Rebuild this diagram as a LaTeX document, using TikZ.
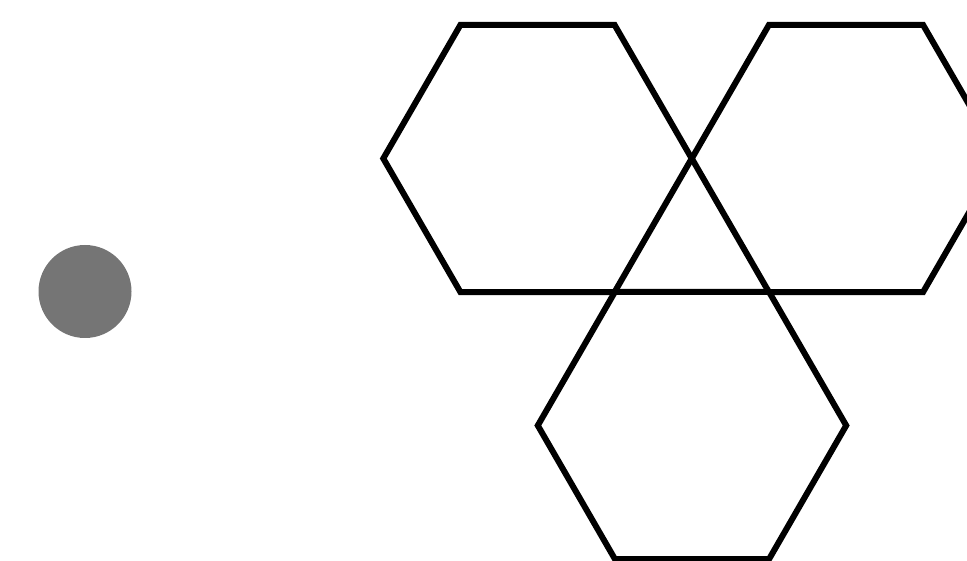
\documentclass[tikz,border=0pt]{standalone}
\usetikzlibrary{calc}
\begin{document}
\begin{tikzpicture}[x=1pt,y=-1pt,
  hexline/.style={draw=black,line width=6pt,line join=miter,fill=none},
  dot/.style={circle,fill=black!54,draw=none,minimum size=93pt,inner sep=0pt}]
\useasboundingbox (0,0) rectangle (967,561);
\clip (0,0) rectangle (967,561);
\def\hexr{154.2}
\foreach \name/\cx/\cy in {hexA/537.5/158.5, hexB/846/158.5, hexC/692/425.5}{
  \coordinate (\name) at (\cx,\cy);
  \draw[hexline] ($(\name)+(0:\hexr pt)$) \foreach \a in {60,120,...,300}{ -- ($(\name)+(\a:\hexr pt)$)} -- cycle;
}
\node[dot] (ball) at (85,291.5) {};
\end{tikzpicture}
\end{document}
